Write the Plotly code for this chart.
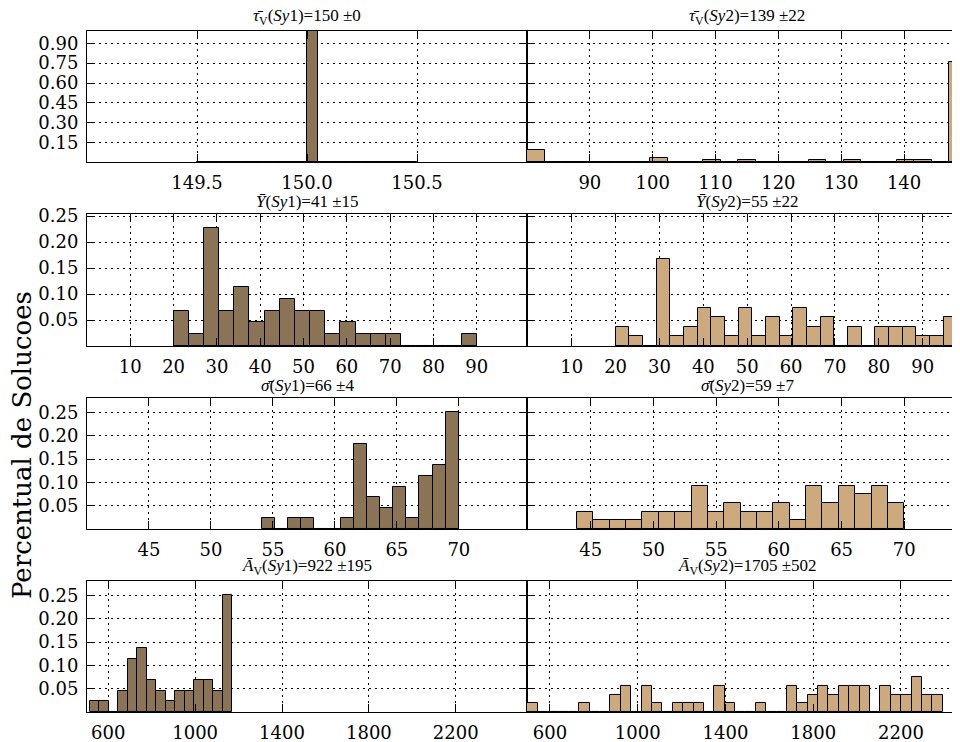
import plotly.graph_objects as go

# Histogram data: counts per bin, bin range (first edge, last edge), sample size
N_SY1 = 44
N_SY2 = 54

tau_sy1 = [0, 0, 0, 0, 0, 0, 0, 0, 0, 0, 44, 0, 0, 0, 0, 0, 0, 0, 0, 0]
tau_sy1_edges = (149.5, 150.5)
tau_sy2 = [5, 0, 0, 0, 0, 0, 0, 2, 0, 0, 1, 0, 1, 0, 0, 0, 1, 0, 1, 0, 0, 1, 1, 0, 41]
tau_sy2_edges = (80.0, 150.0)

y_sy1 = [3, 1, 10, 3, 5, 2, 3, 4, 3, 3, 1, 2, 1, 1, 1, 0, 0, 0, 0, 1]
y_sy1_edges = (20.0, 90.0)
y_sy2 = [2, 1, 0, 9, 1, 2, 4, 3, 1, 4, 1, 3, 1, 4, 2, 3, 0, 2, 0, 2, 2, 2, 1, 1, 3]
y_sy2_edges = (20.0, 97.9)

sig_sy1 = [1, 0, 1, 1, 0, 0, 1, 8, 3, 2, 4, 1, 5, 6, 11]
sig_sy1_edges = (54.1, 70.0)
sig_sy2 = [2, 1, 1, 1, 2, 2, 2, 5, 2, 3, 2, 2, 3, 1, 5, 3, 5, 4, 5, 3]
sig_sy2_edges = (43.9, 70.0)

av_sy1 = [1, 1, 0, 2, 5, 6, 3, 2, 1, 2, 2, 3, 3, 2, 11]
av_sy1_edges = (515.0, 1171.0)
av_sy2 = [1, 0, 0, 0, 0, 1, 0, 0, 2, 3, 0, 3, 1, 0, 1, 1, 1, 0, 3, 1,
          0, 0, 1, 0, 0, 3, 1, 2, 3, 2, 3, 3, 3, 0, 3, 2, 2, 4, 2, 2]
av_sy2_edges = (497.0, 2390.0)

titles = [
    "<i>τ̄</i><sub>V</sub>(<i>Sy</i>1)=150 ±0",
    "<i>τ̄</i><sub>V</sub>(<i>Sy</i>2)=139 ±22",
    "<i>Ȳ</i>(<i>Sy</i>1)=41 ±15",
    "<i>Ȳ</i>(<i>Sy</i>2)=55 ±22",
    "<i>σ̄</i>(<i>Sy</i>1)=66 ±4",
    "<i>σ̄</i>(<i>Sy</i>2)=59 ±7",
    "<i>Ā</i><sub>V</sub>(<i>Sy</i>1)=922 ±195",
    "<i>Ā</i><sub>V</sub>(<i>Sy</i>2)=1705 ±502",
]

x_ticks = [
    [149.5, 150.0, 150.5],
    [90, 100, 110, 120, 130, 140],
    [10, 20, 30, 40, 50, 60, 70, 80, 90],
    [45, 50, 55, 60, 65, 70],
    [600, 1000, 1400, 1800, 2200],
]
y_ticks_top = [0.15, 0.30, 0.45, 0.60, 0.75, 0.90]
y_ticks = [0.05, 0.10, 0.15, 0.20, 0.25]

panels = [
    (tau_sy1, tau_sy1_edges, N_SY1), (tau_sy2, tau_sy2_edges, N_SY2),
    (y_sy1, y_sy1_edges, N_SY1), (y_sy2, y_sy2_edges, N_SY2),
    (sig_sy1, sig_sy1_edges, N_SY1), (sig_sy2, sig_sy2_edges, N_SY2),
    (av_sy1, av_sy1_edges, N_SY1), (av_sy2, av_sy2_edges, N_SY2),
]

# axis ranges (right column is cut by the page edge)
x_ranges = [
    [149.0, 151.0], [80.0, 148.9],
    [0.0, 101.6], [-0.2, 98.5],
    [40.0, 75.5], [39.92, 74.44],
    [502, 2528], [495.2, 2469],
]
y_ranges = [[0, 0.993], [0, 0.254], [0, 0.281], [0, 0.281]]
row_domains = [[0.807, 1.0], [0.5374, 0.7313], [0.2687, 0.4611], [0.0, 0.1924]]
col_domains = [[0.0, 440 / 873], [440 / 873, 1.0]]
x_tick_rows = [[x_ticks[0], x_ticks[1]], [x_ticks[2], x_ticks[2]],
               [x_ticks[3], x_ticks[3]], [x_ticks[4], x_ticks[4]]]

colors = ["#8B7355", "#CDAA7D"]
TICK_FONT = dict(family="DejaVu Serif", size=18, color="black")
GRID = dict(showgrid=True, gridcolor="black", griddash="2px,4px", gridwidth=1)

fig = go.Figure()
layout = {}
annotations = []

for i, (counts, (lo, hi), n) in enumerate(panels):
    row, col = divmod(i, 2)
    k = i + 1
    suffix = "" if k == 1 else str(k)
    width = (hi - lo) / len(counts)
    centers = [lo + width * (j + 0.5) for j in range(len(counts))]
    heights = [c / n for c in counts]
    fig.add_trace(go.Bar(
        x=centers, y=heights, width=width,
        marker=dict(color=colors[col], line=dict(color="black", width=1)),
        xaxis="x" + suffix, yaxis="y" + suffix,
        showlegend=False, hoverinfo="x+y",
    ))

    xt = x_tick_rows[row][col]
    layout["xaxis" + suffix] = dict(
        domain=col_domains[col], anchor="y" + suffix, range=x_ranges[i],
        tickvals=xt, ticktext=[("%.1f" % v) if row == 0 and col == 0 else str(int(v)) for v in xt],
        showline=True, linecolor="black", linewidth=1, mirror="ticks",
        ticks="inside", ticklen=8, tickcolor="black",
        zeroline=False, tickfont=TICK_FONT, ticklabelstandoff=4, **GRID,
    )
    yt = y_ticks_top if row == 0 else y_ticks
    layout["yaxis" + suffix] = dict(
        domain=row_domains[row], anchor="x" + suffix, range=y_ranges[row],
        tickvals=yt, ticktext=["%.2f" % v for v in yt], showticklabels=(col == 0),
        showline=True, linecolor="black", linewidth=1,
        mirror="ticks" if col == 0 else False,
        ticks="inside", ticklen=8, tickcolor="black",
        zeroline=False, tickfont=TICK_FONT, ticklabelstandoff=4, **GRID,
    )
    annotations.append(dict(
        text=titles[i], xref="paper", yref="paper",
        x=sum(col_domains[col]) / 2 if col == 0 else col_domains[1][0] + 220 / 873,
        y=row_domains[row][1], xanchor="center", yanchor="bottom", yshift=1,
        showarrow=False, font=dict(family="Liberation Serif", size=17, color="black"),
    ))

annotations.append(dict(
    text="Percentual de Solucoes", xref="paper", yref="paper",
    x=-0.0745, y=0.392, textangle=-90, xanchor="center", yanchor="middle",
    showarrow=False, font=dict(family="DejaVu Serif", size=26, color="black"),
))

# the page body keeps an 8px margin, so the figure is drawn 8px smaller
fig.update_layout(
    **layout,
    annotations=annotations,
    width=952, height=734,
    margin=dict(l=79, r=0, t=23, b=30),
    paper_bgcolor="white", plot_bgcolor="white",
    bargap=0,
)

fig.write_html("out.html")
